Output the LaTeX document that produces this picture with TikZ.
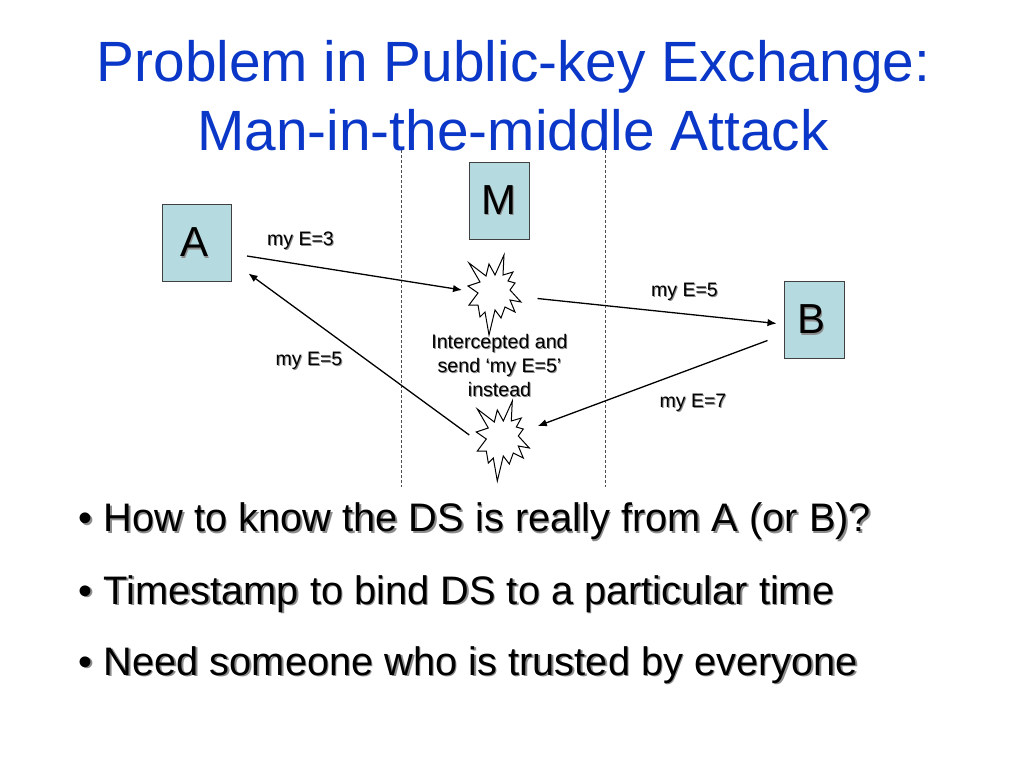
\documentclass[tikz,border=0pt]{standalone}
\usepackage{xcolor}
\usepackage{fontspec}
\setmainfont{Liberation Sans}
\usetikzlibrary{arrows.meta, positioning, calc}

\definecolor{titleblue}{HTML}{0A37C8}
\definecolor{boxteal}{HTML}{B5DBE1}
\newcommand{\shtxt}[2][1.5pt]{\leavevmode\rlap{\raisebox{-#1}{\hspace{#1}\textcolor{black!45}{#2}}}#2}

\begin{document}
\begin{tikzpicture}[x=1pt, y=-1pt,
    party/.style={rectangle, draw=black!75, fill=boxteal, line width=0.9pt, inner sep=0pt, font=\fontsize{42}{42}\selectfont},
    heading/.style={inner sep=0pt, text=titleblue, font=\fontsize{56.8}{68}\selectfont, anchor=base},
    msglabel/.style={inner sep=0pt, font=\fontsize{19.5}{24}\selectfont},
    note/.style={inner sep=0pt, align=center, font=\fontsize{19.6}{24}\selectfont},
    point/.style={inner sep=0pt, anchor=base west, font=\fontsize{39.8}{40}\selectfont},
    midline/.style={draw=black!70, densely dashed, line width=1pt},
    line/.style={draw=black, -{Latex[length=9pt,width=7.5pt]}, line width=1.3pt},
    burst/.pic={
        \draw[black, fill=white, line width=1pt] (9,-38) -- (8,-18) -- (18,-21) -- (13,-12) -- (20,-10) -- (15,-3)
            -- (26,9) -- (15,7) -- (20,19) -- (10,14) -- (6,25) -- (0,17) -- (-6,42) -- (-10,19) -- (-15,24)
            -- (-17,12) -- (-26,12) -- (-17,0) -- (-27,-7) -- (-15,-11) -- (-26,-30) -- (-9,-17) -- (-6,-29)
            -- (0,-18) -- cycle;
    }]

    \useasboundingbox (0,0) rectangle (1024,768);
    \fill[white] (0,0) rectangle (1024,768);

    \node [coordinate] (dashAtop) at (401,150) {};
    \node [coordinate] (dashAend) at (401,487) {};
    \node [coordinate] (dashBtop) at (605.5,150) {};
    \node [coordinate] (dashBend) at (605.5,487) {};
    \path [midline] (dashAtop) -- (dashAend);
    \path [midline] (dashBtop) -- (dashBend);

    \node [heading] (title) at (513.5,81.5) {Problem in Public-key Exchange:};
    \node [heading] (subtitle) at (513,150) {Man-in-the-middle Attack};

    \node [party, minimum width=69pt, minimum height=77pt] (boxA) at (196.5,243) {\kern-4pt\shtxt{A}};
    \node [party, minimum width=60pt, minimum height=77pt] (boxM) at (499,200.5) {\kern-1pt\shtxt{M}};
    \node [party, minimum width=60.5pt, minimum height=77pt] (boxB) at (814.5,320) {\kern-7pt\shtxt{B}};

    \node [coordinate] (burstTop) at (495,293) {};
    \node [coordinate] (burstLow) at (503.3,439) {};
    \pic at (burstTop) {burst};
    \pic at (burstLow) {burst};

    \node [msglabel] (labelA) at (300.5,241.5) {\shtxt[1pt]{my E=3}};
    \node [msglabel] (labelB) at (684.5,292.5) {\shtxt[1pt]{my E=5}};
    \node [msglabel] (labelC) at (693,403.5) {\shtxt[1pt]{my E=7}};
    \node [msglabel] (labelD) at (309,361.5) {\shtxt[1pt]{my E=5}};
    \node [note] (intercept) at (499.5,366) {\shtxt[1pt]{Intercepted and}\\\shtxt[1pt]{send ‘my E=5’}\\\shtxt[1pt]{instead}};

    \path [line] ($(boxA.center)+(50.5,13)$) -- ($(burstTop)+(-33,-3)$);
    \path [line] ($(burstTop)+(42.5,5.5)$) -- ($(boxB.center)+(-38,3.5)$);
    \path [line] ($(boxB.center)+(-47,20.5)$) -- ($(burstLow)+(34.5,-13)$);
    \path [line] ($(burstLow)+(-34,-4)$) -- ($(boxA.center)+(52,30.5)$);

    \node [point] (pointA) at (78.5,531.5) {\shtxt{• How to know the DS is really from A (or B)?}};
    \node [point] (pointB) at (78.5,604) {\shtxt{• Timestamp to bind DS to a particular time}};
    \node [point] (pointC) at (78.5,675) {\shtxt{• Need someone who is trusted by everyone}};
\end{tikzpicture}
\end{document}
